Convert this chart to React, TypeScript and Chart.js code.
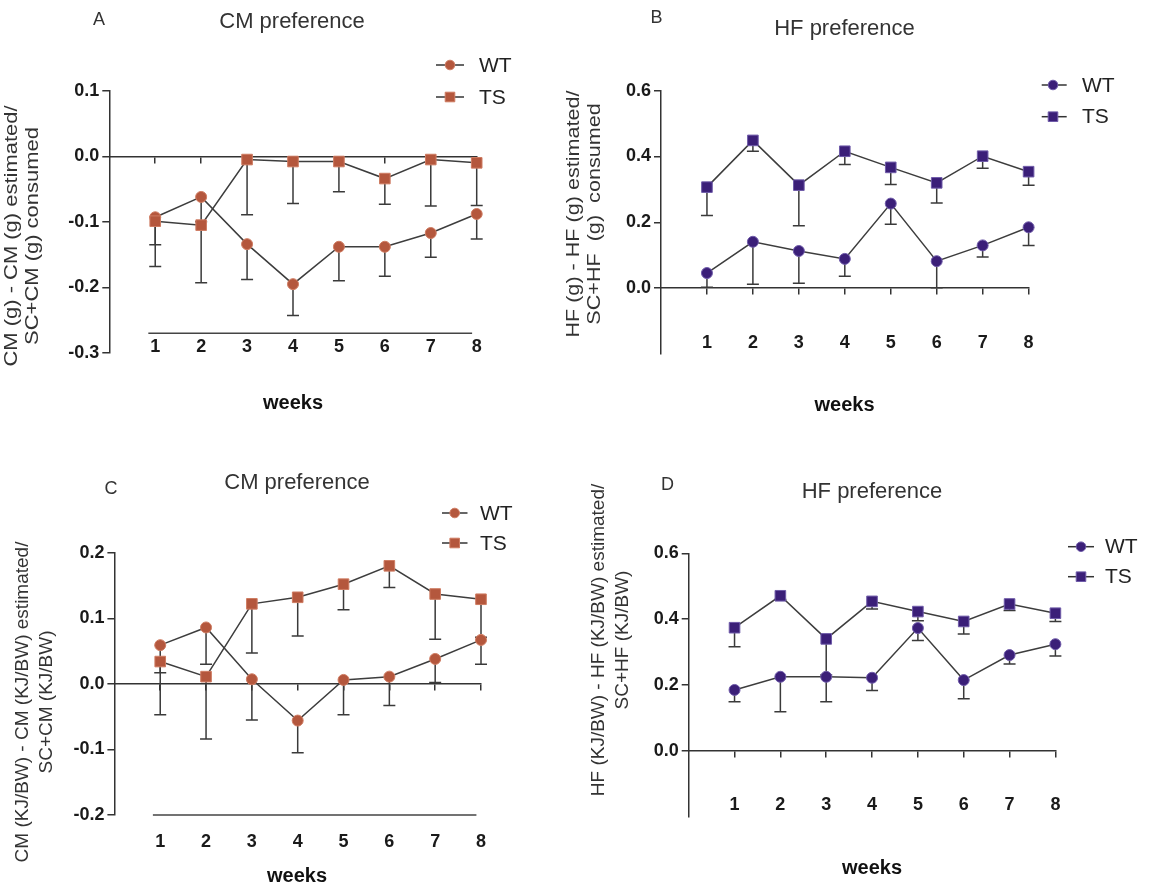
import React, { useEffect, useRef } from "react";
import { Chart, registerables } from "chart.js";

Chart.register(...registerables);

// ---------- data ----------
const weeks = [1, 2, 3, 4, 5, 6, 7, 8];

// Panel A: CM preference (g)
const wtA = [-0.093, -0.062, -0.134, -0.195, -0.138, -0.138, -0.117, -0.088];
const wtALow = [-0.135, -0.1, -0.188, -0.243, -0.19, -0.183, -0.154, -0.126];
const tsA = [-0.099, -0.105, -0.005, -0.008, -0.008, -0.034, -0.005, -0.01];
const tsALow = [-0.168, -0.193, -0.089, -0.072, -0.054, -0.073, -0.076, -0.075];
const baseLineAX = [0.85, 7.9];
const baseLineAY = -0.27;

// Panel B: HF preference (g)
const wtB = [0.046, 0.141, 0.113, 0.089, 0.257, 0.082, 0.13, 0.185];
const wtBLow = [0.003, 0.012, 0.015, 0.036, 0.194, 0.001, 0.095, 0.13];
const tsB = [0.307, 0.449, 0.313, 0.416, 0.367, 0.32, 0.401, 0.354];
const tsBLow = [0.221, 0.416, 0.19, 0.376, 0.315, 0.259, 0.364, 0.313];

// Panel C: CM preference (KJ/BW)
const wtC = [0.059, 0.086, 0.007, -0.056, 0.006, 0.011, 0.038, 0.067];
const wtCLow = [0.017, 0.03, -0.055, -0.105, -0.047, -0.033, 0.002, 0.03];
const tsC = [0.034, 0.011, 0.122, 0.132, 0.152, 0.18, 0.137, 0.129];
const tsCLow = [-0.047, -0.084, 0.047, 0.073, 0.113, 0.147, 0.068, 0.071];
const baseLineCX = [0.84, 7.9];
const baseLineCY = -0.2;

// Panel D: HF preference (KJ/BW)
const wtD = [0.185, 0.225, 0.225, 0.222, 0.373, 0.215, 0.291, 0.324];
const wtDLow = [0.149, 0.119, 0.149, 0.183, 0.335, 0.158, 0.264, 0.288];
const tsD = [0.374, 0.471, 0.34, 0.454, 0.423, 0.393, 0.446, 0.418];
const tsDLow = [0.316, 0.46, 0.23, 0.431, 0.395, 0.355, 0.426, 0.393];

const seriesLabels = ["WT", "TS"];

// ---------- styling / layout ----------
const FONT = "'Liberation Sans', Arial, Helvetica, sans-serif";
const W = 1150;
const H = 888;
const ORANGE = "#b4573d";
const ORANGE_EDGE = "#cf7c62";
const PURPLE = "#3b1f78";
const PURPLE_EDGE = "#6f5ba9";
const LINE = "#3d3d3d";

type Panel = {
  key: string;
  letter: string;
  letterPos: [number, number];
  title: string;
  titlePos: [number, number];
  yTitle: [string, string];
  yTitleX: [number, number];
  yTitleY: number;
  yTitleSize: number;
  yTitleStretch: number;
  weeksPos: [number, number];
  legend: { x0: number; x1: number; mx: number; tx: number; y: [number, number] };
  area: { left: number; right: number; top: number; bottom: number };
  yMin: number;
  yMax: number;
  yStep: number;
  hideBelow: number;
  labelAt: number;
  color: string;
  edge: string;
  wt: number[];
  wtLow: number[];
  ts: number[];
  tsLow: number[];
  baseX?: number[];
  baseY?: number;
};

const panels: Panel[] = [
  {
    key: "A",
    letter: "A",
    letterPos: [99, 20],
    title: "CM preference",
    titlePos: [292, 22],
    yTitle: ["CM (g) - CM (g) estimated/", "SC+CM (g) consumed"],
    yTitleX: [12, 33],
    yTitleY: 236,
    yTitleSize: 18,
    yTitleStretch: 1.22,
    weeksPos: [293, 403],
    legend: { x0: 436, x1: 464, mx: 450, tx: 479, y: [65, 97] },
    area: { left: 109.3, right: 476.7, top: 90.7, bottom: 353 },
    yMin: -0.3,
    yMax: 0.1,
    yStep: 0.1,
    hideBelow: -1,
    labelAt: -0.274,
    color: ORANGE,
    edge: ORANGE_EDGE,
    wt: wtA,
    wtLow: wtALow,
    ts: tsA,
    tsLow: tsALow,
    baseX: baseLineAX,
    baseY: baseLineAY,
  },
  {
    key: "B",
    letter: "B",
    letterPos: [656.5, 18.5],
    title: "HF preference",
    titlePos: [844.5, 29],
    yTitle: ["HF (g) - HF (g) estimated/", "SC+HF  (g)  consumed"],
    yTitleX: [574, 595],
    yTitleY: 214,
    yTitleSize: 18,
    yTitleStretch: 1.2,
    weeksPos: [844.5, 405.5],
    legend: { x0: 1041.7, x1: 1066.7, mx: 1053, tx: 1082, y: [85, 116.7] },
    area: { left: 661, right: 1028.6, top: 90.7, bottom: 354 },
    yMin: -0.2,
    yMax: 0.6,
    yStep: 0.2,
    hideBelow: -0.1,
    labelAt: -0.135,
    color: PURPLE,
    edge: PURPLE_EDGE,
    wt: wtB,
    wtLow: wtBLow,
    ts: tsB,
    tsLow: tsBLow,
  },
  {
    key: "C",
    letter: "C",
    letterPos: [111, 489],
    title: "CM preference",
    titlePos: [297, 483],
    yTitle: ["CM (KJ/BW) - CM (KJ/BW) estimated/", "SC+CM (KJ/BW)"],
    yTitleX: [23, 47],
    yTitleY: 702,
    yTitleSize: 19,
    yTitleStretch: 1,
    weeksPos: [297, 876],
    legend: { x0: 442, x1: 467.5, mx: 454.7, tx: 480, y: [513, 543] },
    area: { left: 114.4, right: 481, top: 552.7, bottom: 815 },
    yMin: -0.2,
    yMax: 0.2,
    yStep: 0.1,
    hideBelow: -1,
    labelAt: -0.2255,
    color: ORANGE,
    edge: ORANGE_EDGE,
    wt: wtC,
    wtLow: wtCLow,
    ts: tsC,
    tsLow: tsCLow,
    baseX: baseLineCX,
    baseY: baseLineCY,
  },
  {
    key: "D",
    letter: "D",
    letterPos: [667.5, 485.5],
    title: "HF preference",
    titlePos: [872, 492],
    yTitle: ["HF (KJ/BW) - HF (KJ/BW) estimated/", "SC+HF (KJ/BW)"],
    yTitleX: [599, 623],
    yTitleY: 640,
    yTitleSize: 19,
    yTitleStretch: 1,
    weeksPos: [872, 868],
    legend: { x0: 1068, x1: 1094, mx: 1081, tx: 1105, y: [546.7, 576.7] },
    area: { left: 688.7, right: 1055.4, top: 553.3, bottom: 816.7 },
    yMin: -0.2,
    yMax: 0.6,
    yStep: 0.2,
    hideBelow: -0.1,
    labelAt: -0.1317,
    color: PURPLE,
    edge: PURPLE_EDGE,
    wt: wtD,
    wtLow: wtDLow,
    ts: tsD,
    tsLow: tsDLow,
  },
];

function drawMarker(
  ctx: CanvasRenderingContext2D,
  style: "circle" | "rect",
  cx: number,
  cy: number,
  fill: string,
  edge: string
) {
  ctx.save();
  ctx.fillStyle = fill;
  ctx.strokeStyle = edge;
  ctx.lineWidth = 1;
  ctx.beginPath();
  if (style === "circle") {
    ctx.arc(cx, cy, 4.8, 0, Math.PI * 2);
  } else {
    ctx.rect(cx - 4.8, cy - 4.8, 9.6, 9.6);
  }
  ctx.fill();
  ctx.stroke();
  ctx.restore();
}

function overlayPlugin(p: Panel) {
  return {
    id: "overlay" + p.key,
    beforeDatasetsDraw(chart: any) {
      const { ctx } = chart;
      const x = chart.scales.x;
      const y = chart.scales.y;
      ctx.save();
      ctx.strokeStyle = "#3a3a3a";
      ctx.lineWidth = 1.5;
      const bars = (vals: number[], lows: number[]) => {
        vals.forEach((v, i) => {
          const px = x.getPixelForValue(weeks[i]);
          const py = y.getPixelForValue(v);
          const pl = y.getPixelForValue(lows[i]);
          ctx.beginPath();
          ctx.moveTo(px, py);
          ctx.lineTo(px, pl);
          ctx.moveTo(px - 6, pl);
          ctx.lineTo(px + 6, pl);
          ctx.stroke();
        });
      };
      bars(p.wt, p.wtLow);
      bars(p.ts, p.tsLow);
      ctx.restore();
    },
    afterDraw(chart: any) {
      const { ctx } = chart;
      ctx.save();
      ctx.textBaseline = "middle";

      // panel letter
      ctx.fillStyle = "#333";
      ctx.textAlign = "center";
      ctx.font = `18px ${FONT}`;
      ctx.fillText(p.letter, p.letterPos[0], p.letterPos[1]);

      // title
      ctx.font = `22px ${FONT}`;
      ctx.fillText(p.title, p.titlePos[0], p.titlePos[1]);

      // x axis title
      ctx.fillStyle = "#111";
      ctx.font = `bold 20px ${FONT}`;
      ctx.fillText("weeks", p.weeksPos[0], p.weeksPos[1]);

      // y axis title (two rotated lines)
      ctx.fillStyle = "#333";
      ctx.font = `${p.yTitleSize}px ${FONT}`;
      p.yTitle.forEach((line, i) => {
        ctx.save();
        ctx.translate(p.yTitleX[i], p.yTitleY);
        ctx.rotate(-Math.PI / 2);
        ctx.scale(p.yTitleStretch, 1);
        ctx.fillText(line, 0, 0);
        ctx.restore();
      });

      // legend
      const styles: ("circle" | "rect")[] = ["circle", "rect"];
      seriesLabels.forEach((lab, i) => {
        const ly = p.legend.y[i];
        ctx.strokeStyle = "#333";
        ctx.lineWidth = 1.5;
        ctx.beginPath();
        ctx.moveTo(p.legend.x0, ly);
        ctx.lineTo(p.legend.x1, ly);
        ctx.stroke();
        drawMarker(ctx, styles[i], p.legend.mx, ly, p.color, p.edge);
        ctx.fillStyle = "#222";
        ctx.textAlign = "left";
        ctx.font = `21px ${FONT}`;
        ctx.fillText(lab, p.legend.tx, ly + 1);
      });
      ctx.restore();
    },
  };
}

function buildConfig(p: Panel): any {
  const tickFont = { family: FONT, size: 18, weight: "bold" as const };
  const datasets: any[] = [
    {
      label: seriesLabels[1],
      data: weeks.map((w, i) => ({ x: w, y: p.ts[i] })),
      order: 0,
      borderColor: LINE,
      borderWidth: 1.5,
      pointStyle: "rect",
      pointRadius: 7.5,
      pointBackgroundColor: p.color,
      pointBorderColor: p.edge,
      pointBorderWidth: 1,
      tension: 0,
      clip: false,
    },
    {
      label: seriesLabels[0],
      data: weeks.map((w, i) => ({ x: w, y: p.wt[i] })),
      order: 1,
      borderColor: LINE,
      borderWidth: 1.5,
      pointStyle: "circle",
      pointRadius: 5.5,
      pointBackgroundColor: p.color,
      pointBorderColor: p.edge,
      pointBorderWidth: 1,
      tension: 0,
      clip: false,
    },
  ];
  if (p.baseX && p.baseY !== undefined) {
    datasets.push({
      label: "base",
      data: p.baseX.map((bx) => ({ x: bx, y: p.baseY })),
      order: 2,
      borderColor: "#444",
      borderWidth: 1.5,
      pointRadius: 0,
      clip: false,
    });
  }
  const dropZero = (s: any) => {
    s.ticks = s.ticks.filter((t: any) => t.value >= 1);
  };
  return {
    type: "line",
    data: { datasets },
    options: {
      responsive: false,
      animation: false,
      events: [],
      layout: {
        padding: {
          left: 0,
          top: p.area.top,
          right: W - p.area.right,
          bottom: H - p.area.bottom,
        },
      },
      plugins: {
        legend: { display: false },
        title: { display: false },
        tooltip: { enabled: false },
      },
      scales: {
        x: {
          type: "linear",
          min: 0,
          max: 8,
          position: { y: 0 },
          ticks: { display: false, stepSize: 1 },
          grid: {
            display: true,
            drawOnChartArea: false,
            drawTicks: true,
            tickLength: 6,
            color: "#333",
            lineWidth: 1.5,
          },
          border: { display: true, color: "#333", width: 1.5 },
          afterBuildTicks: dropZero,
        },
        xl: {
          type: "linear",
          axis: "x",
          min: 0,
          max: 8,
          position: { y: p.labelAt },
          ticks: {
            stepSize: 1,
            padding: 0,
            font: tickFont,
            color: "#1a1a1a",
            maxRotation: 0,
            autoSkip: false,
          },
          grid: { display: false, drawTicks: false },
          border: { display: false },
          afterBuildTicks: dropZero,
        },
        y: {
          type: "linear",
          position: "left",
          min: p.yMin,
          max: p.yMax,
          ticks: {
            stepSize: p.yStep,
            padding: 3,
            font: tickFont,
            color: "#1a1a1a",
            callback: (v: any) => (Math.abs(Number(v)) < 1e-9 ? "0.0" : Number(v).toFixed(1)),
          },
          grid: {
            display: true,
            drawOnChartArea: false,
            drawTicks: true,
            tickLength: 7,
            color: "#333",
            lineWidth: 1.5,
          },
          border: { display: true, color: "#333", width: 1.5 },
          afterBuildTicks: (s: any) => {
            s.ticks = s.ticks.filter((t: any) => t.value > p.hideBelow);
          },
          afterFit: (s: any) => {
            s.width = p.area.left;
          },
        },
      },
    },
    plugins: [overlayPlugin(p)],
  };
}

function PanelChart({ p }: { p: Panel }) {
  const ref = useRef<HTMLCanvasElement | null>(null);
  useEffect(() => {
    if (!ref.current) return;
    const chart = new Chart(ref.current, buildConfig(p));
    return () => chart.destroy();
  }, [p]);
  return (
    <canvas
      ref={ref}
      width={W}
      height={H}
      style={{ position: "absolute", left: 0, top: 0, width: W, height: H }}
    />
  );
}

export default function App() {
  return (
    <div
      style={{
        position: "absolute",
        left: 0,
        top: 0,
        width: W,
        height: H,
        background: "#fff",
        overflow: "hidden",
      }}
    >
      {panels.map((p) => (
        <PanelChart key={p.key} p={p} />
      ))}
    </div>
  );
}
